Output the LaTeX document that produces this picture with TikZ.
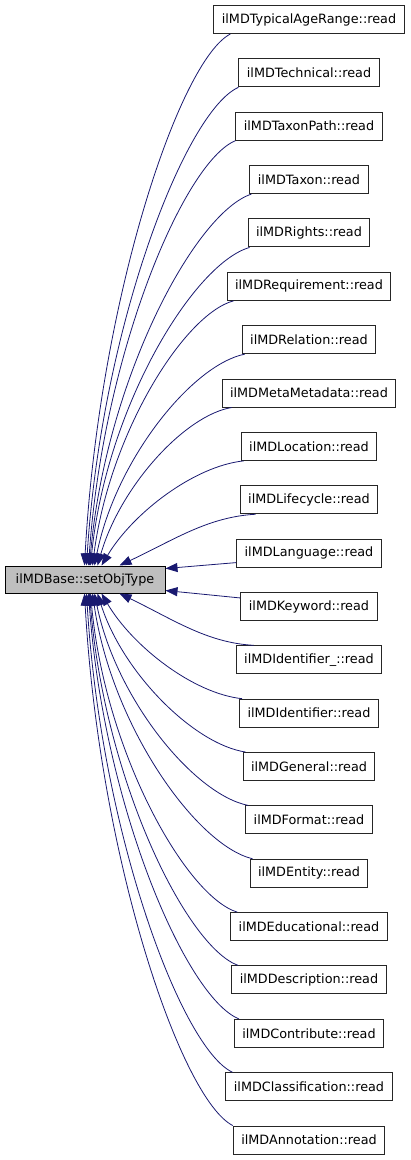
\documentclass[tikz,border=0pt]{standalone}
\usepackage{fontspec}
\setmainfont{DejaVu Sans}
\usetikzlibrary{arrows.meta,calc}
\definecolor{edgeblue}{RGB}{25,25,112}
\definecolor{basegray}{RGB}{191,191,191}
\begin{document}
\begin{tikzpicture}[x=1pt,y=-1pt,
  leaf/.style={draw=black!85,line width=1pt,fill=white,minimum height=28pt,inner xsep=8pt,inner ysep=0pt,font=\fontsize{12.8}{14}\selectfont},
  basebox/.style={leaf,fill=basegray,draw=black,minimum width=160pt,minimum height=27pt},
  edge/.style={draw=edgeblue,line width=0.8pt,-{Triangle[length=12pt,width=9pt]}}]
\useasboundingbox (0,0) rectangle (411,1160);
\node[basebox] (base) at (85,579.5) {ilMDBase::setObjType};
\foreach \name [count=\i from 0] in {ilMDTypicalAgeRange::read,ilMDTechnical::read,ilMDTaxonPath::read,ilMDTaxon::read,ilMDRights::read,ilMDRequirement::read,ilMDRelation::read,ilMDMetaMetadata::read,ilMDLocation::read,ilMDLifecycle::read,ilMDLanguage::read,ilMDKeyword::read,ilMDIdentifier\_::read,ilMDIdentifier::read,ilMDGeneral::read,ilMDFormat::read,ilMDEntity::read,ilMDEducational::read,ilMDDescription::read,ilMDContribute::read,ilMDClassification::read,ilMDAnnotation::read}
  \node[leaf] (b\i) at (309,{19.5+53.36*\i}) {\name};
% upper edges
\foreach \i/\sx/\tx/\c in {0/17/85/0.1,1/0/87/0.1,2/0/89/0.1,3/2/90/0.1,4/2/91/0.1,5/7/93/0.12,6/3/95/0.14,7/10/98/0.17,8/3/102/0.22,9/16/120/0.4}
  \draw[edge] let \p1=($(b\i.south west)+(\sx,0)$), \p2=($(base.north west)+({\tx-5},0)$) in
    (\p1) .. controls ({\x1-0.35*(\x1-\x2)},{\y1+0.05*(\y2-\y1)}) and ({\x2+\c*(\x1-\x2)},{\y1+0.5*(\y2-\y1)}) .. (\p2);
% lower edges
\foreach \i/\sx/\tx/\c in {12/18/120/0.4,13/3/102/0.22,14/3/98/0.17,15/3/95/0.14,16/3/93/0.12,17/7/91/0.1,18/7/90/0.1,19/5/89/0.1,20/7/87/0.1,21/0/85/0.1}
  \draw[edge] let \p1=($(b\i.north west)+(\sx,0)$), \p2=($(base.south west)+({\tx-5},0)$) in
    (\p1) .. controls ({\x1-0.35*(\x1-\x2)},{\y1+0.05*(\y2-\y1)}) and ({\x2+\c*(\x1-\x2)},{\y1+0.5*(\y2-\y1)}) .. (\p2);
\draw[edge] ($(b10.south west)+(0,-5)$) -- ($(base.north east)+(0,3)$);
\draw[edge] ($(b11.north west)+(0,6)$) -- ($(base.south east)+(0,-3)$);
\end{tikzpicture}
\end{document}
